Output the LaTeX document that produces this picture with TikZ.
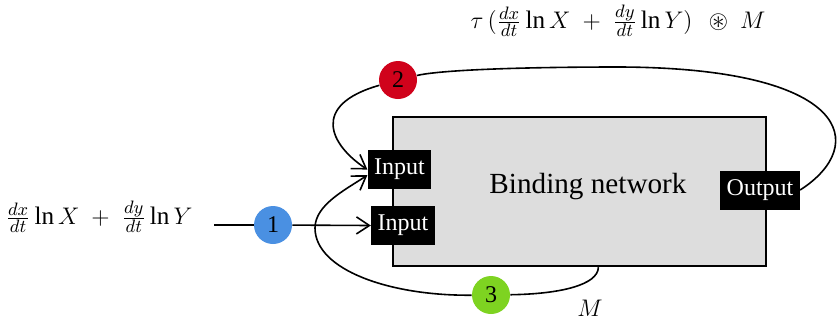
\documentclass[tikz,border=0pt]{standalone}
\usepackage{amssymb}
\usepackage{fontspec}
\setmainfont{Liberation Serif}
\usetikzlibrary{arrows.meta}

\begin{document}
\begin{tikzpicture}[
    x=0.5pt, y=-0.5pt,
    network/.style={rectangle, draw, line width=1.2pt, fill=netgray, minimum width=186.5pt, minimum height=74.5pt},
    port/.style={rectangle, fill=black, text=white, minimum height=19.5pt, inner xsep=3.2pt, font=\large},
    num/.style={circle, minimum size=19pt, inner sep=0pt, font=\large},
    label/.style={font=\fontsize{12.6}{15}\selectfont, inner sep=1pt},
    arrow/.style={-{Straight Barb[length=6.5pt,width=8.5pt]}, line width=0.8pt},
    wire/.style={line width=0.8pt},
]
\definecolor{netgray}{HTML}{DDDDDD}
\definecolor{oneblue}{HTML}{4A90E2}
\definecolor{twored}{HTML}{D0021B}
\definecolor{threegreen}{HTML}{7ED321}

\useasboundingbox (0,0) rectangle (838,322);

% ====== Binding network and ports ======
\node[network] (net) at (579.5, 191.5) {};
\node[font=\fontsize{14.6}{17}\selectfont] (netName) at (588, 187) {Binding network};
\node[port] (inp1) at (399.5, 169.5) {Input};
\node[port] (inp2) at (403, 225.5) {Input};
\node[port] (out) at (760, 190) {Output};

% ====== Signals ======
\node[label] (lblIn) at (99, 217) {$\frac{dx}{dt}\ln X \;+\; \frac{dy}{dt}\ln Y$};
\node[label] (lblOut) at (618, 21) {$\tau\,\bigl(\frac{dx}{dt}\ln X \;+\; \frac{dy}{dt}\ln Y\bigr)\,\;\circledast\; M$};
\node[label] (lblM) at (590, 308) {$M$};
\coordinate (start) at (214, 225);

\node[num, fill=oneblue] (c1) at (273, 225) {1};
\node[num, fill=twored] (c2) at (398, 80) {2};
\node[num, fill=threegreen] (c3) at (491, 295) {3};

% ====== Connectors ======
\draw[wire] (start) -- (c1);
\draw[arrow] (c1) -- (inp2.west);
\draw[arrow] (out.east) .. controls (870, 145) and (850, 68) .. (620, 67)
    .. controls (520, 67) and (440, 70) .. (c2)
    .. controls (310, 105) and (330, 145) .. (inp1.west);
\coordinate (turn) at (315, 228);
\draw[arrow] (net.284) .. controls (598, 285) and (560, 294) .. (c3)
    .. controls (390, 296) and (315, 270) .. (turn)
    .. controls (315, 205) and (345, 190) .. (inp1.190);

\end{tikzpicture}
\end{document}
